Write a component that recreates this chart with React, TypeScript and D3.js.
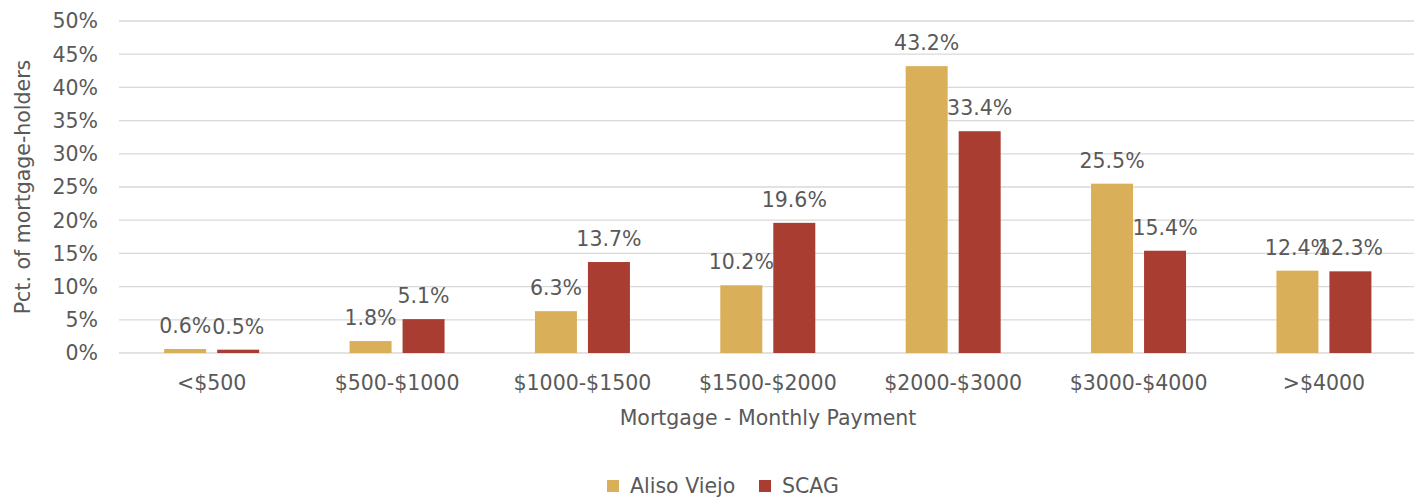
import React from "react";
import * as d3 from "d3";

const categories = ["<$500", "$500-$1000", "$1000-$1500", "$1500-$2000", "$2000-$3000", "$3000-$4000", ">$4000"];
const alisoViejo = [0.6, 1.8, 6.3, 10.2, 43.2, 25.5, 12.4];
const scag = [0.5, 5.1, 13.7, 19.6, 33.4, 15.4, 12.3];
const seriesNames = ["Aliso Viejo", "SCAG"];
const colors = ["#DAAF5A", "#A93D32"];
const yTicks = [0, 5, 10, 15, 20, 25, 30, 35, 40, 45, 50];

const W = 1414, H = 497;
const left = 119, right = 1416.6, top = 21, bottom = 353;
const font = "'DejaVu Sans', sans-serif";
const textColor = "#595959";
const fs = 20.5;

export default function App() {
  const x = d3.scaleBand<string>().domain(categories).range([left, right]).padding(0);
  const y = d3.scaleLinear().domain([0, 50]).range([bottom, top]);
  const barW = 42;
  const gap = 11;
  const series = [alisoViejo, scag];
  return (
    <svg width={W} height={H} style={{ position: "absolute", left: 0, top: 0, background: "#fff" }} fontFamily={font}>
      {yTicks.map((t) => (
        <g key={t}>
          <line x1={left} x2={W} y1={y(t)} y2={y(t)} stroke="#D9D9D9" strokeWidth={1.3} />
          <text x={98} y={y(t)} dy="0.36em" textAnchor="end" fontSize={fs} fill={textColor}>{t}%</text>
        </g>
      ))}
      {categories.map((c, i) => {
        const cx = (x(c) as number) + x.bandwidth() / 2;
        return (
          <g key={c}>
            {series.map((s, k) => {
              const bx = k === 0 ? cx - gap / 2 - barW : cx + gap / 2;
              const v = s[i];
              return (
                <g key={k}>
                  <rect x={bx} y={y(v)} width={barW} height={bottom - y(v)} fill={colors[k]} />
                  <text x={bx + barW / 2} y={y(v) - 16} textAnchor="middle" fontSize={fs} fill={textColor}>{v.toFixed(1)}%</text>
                </g>
              );
            })}
            <text x={cx} y={390} textAnchor="middle" fontSize={fs} fill={textColor}>{c}</text>
          </g>
        );
      })}
      <text x={768} y={425} textAnchor="middle" fontSize={fs} fill={textColor}>Mortgage - Monthly Payment</text>
      <text transform={`translate(30,${(top + bottom) / 2}) rotate(-90)`} textAnchor="middle" fontSize={fs} fill={textColor}>Pct. of mortgage-holders</text>
      {seriesNames.map((n, k) => {
        const lx = k === 0 ? 607 : 759;
        return (
          <g key={n}>
            <rect x={lx} y={480} width={12} height={12} fill={colors[k]} />
            <text x={lx + 23} y={486} dy="0.36em" fontSize={fs} fill={textColor}>{n}</text>
          </g>
        );
      })}
    </svg>
  );
}
